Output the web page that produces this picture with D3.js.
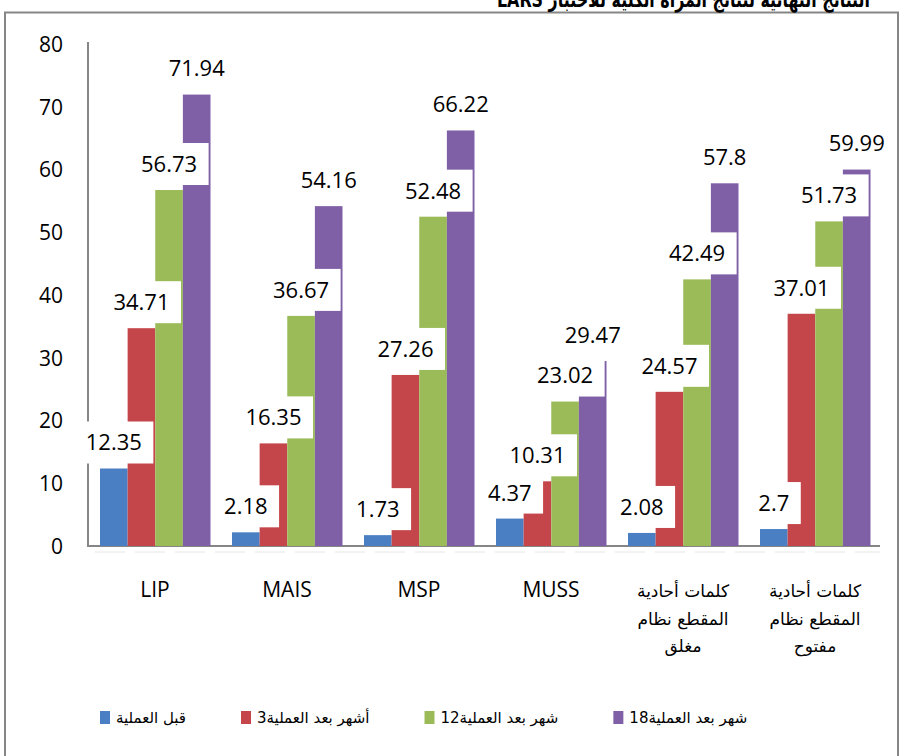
<!DOCTYPE html>
<html>
<head>
<meta charset="utf-8">
<script src="https://cdn.jsdelivr.net/npm/d3@7"></script>
<style>
  html, body { margin: 0; padding: 0; background: #fff; }
  svg { display: block; }
</style>
</head>
<body>
<svg id="chart" width="905" height="756"></svg>
<script>
// ---- data ----
const titleText = "النتائج النهائية لنتائج المرأة الكلية للاختبار LARS";
const categories = [
  ["LIP"],
  ["MAIS"],
  ["MSP"],
  ["MUSS"],
  ["كلمات أحادية", "المقطع نظام", "مغلق"],
  ["كلمات أحادية", "المقطع نظام", "مفتوح"]
];
const seriesNames = ["قبل العملية", "أشهر بعد العملية3", "شهر بعد العملية12", "شهر بعد العملية18"];
const seriesColors = ["#4A7FC4", "#C4464A", "#9BBB59", "#7F5FA5"];
const before = [12.35, 2.18, 1.73, 4.37, 2.08, 2.7];
const after3 = [34.71, 16.35, 27.26, 10.31, 24.57, 37.01];
const after12 = [56.73, 36.67, 52.48, 23.02, 42.49, 51.73];
const after18 = [71.94, 54.16, 66.22, 29.47, 57.8, 59.99];
const yTicks = [0, 10, 20, 30, 40, 50, 60, 70, 80];

const seriesValues = [before, after3, after12, after18];

// ---- layout ----
const svg = d3.select("#chart");
const plot = { left: 89, right: 881, top: 44, bottom: 546 };

// outer border
svg.append("rect")
  .attr("x", 5).attr("y", 12.5).attr("width", 893).attr("height", 760)
  .attr("fill", "none").attr("stroke", "#868686").attr("stroke-width", 2);

// title (top part lies above the page edge, as in the reference)
svg.append("text")
  .attr("x", 870).attr("y", 7)
  .attr("text-anchor", "start")
  .attr("direction", "rtl")
  .attr("textLength", 373)
  .attr("lengthAdjust", "spacingAndGlyphs")
  .style("font-family", "'DejaVu Sans', 'Liberation Serif', serif")
  .style("font-weight", "bold")
  .style("font-size", "22px")
  .attr("fill", "#000")
  .text(titleText);

const x0 = d3.scaleBand().domain(d3.range(categories.length)).range([plot.left, plot.right]).paddingInner(0).paddingOuter(0);
const x1 = d3.scaleBand().domain(d3.range(seriesNames.length)).range([11, x0.bandwidth() - 10.5]).padding(0);
const y = d3.scaleLinear().domain([0, 80]).range([plot.bottom, plot.top]);

// y axis labels
const yAxis = d3.axisLeft(y).tickValues(yTicks).tickSize(0).tickPadding(25);
const yg = svg.append("g").attr("transform", `translate(${plot.left - 1},0)`).call(yAxis);
yg.select(".domain").remove();
yg.selectAll("text")
  .style("font-family", "'Open Sans', sans-serif")
  .style("font-size", "21px")
  .attr("fill", "#000")
  .attr("dy", "0.35em");

// axis lines
svg.append("line")
  .attr("x1", 88).attr("x2", 88).attr("y1", 42).attr("y2", plot.bottom)
  .attr("stroke", "#868686").attr("stroke-width", 2);
svg.append("line")
  .attr("x1", 87).attr("x2", 880).attr("y1", plot.bottom).attr("y2", plot.bottom)
  .attr("stroke", "#868686").attr("stroke-width", 2);
svg.append("line")
  .attr("x1", 95).attr("x2", 880).attr("y1", plot.bottom + 6).attr("y2", plot.bottom + 6)
  .attr("stroke", "#e6e6e6").attr("stroke-width", 1).attr("stroke-dasharray", "30,10");

// bars
const flat = [];
categories.forEach((c, ci) => {
  seriesValues.forEach((vals, si) => {
    flat.push({ ci, si, v: vals[ci] });
  });
});

svg.append("g").selectAll("rect").data(flat).join("rect")
  .attr("x", d => x0(d.ci) + x1(d.si))
  .attr("width", x1.bandwidth())
  .attr("y", d => y(d.v))
  .attr("height", d => y(0) - y(d.v))
  .attr("fill", d => seriesColors[d.si]);

// data labels with white boxes
const lg = svg.append("g");
const labels = lg.selectAll("g").data(flat).join("g")
  .attr("transform", d => `translate(${x0(d.ci) + x1(d.si) + x1.bandwidth() / 2},${y(d.v) - 26})`);
const boxes = labels.append("rect").attr("fill", "#fff");
const texts = labels.append("text")
  .attr("text-anchor", "middle")
  .attr("dy", "0.36em")
  .style("font-family", "'Open Sans', sans-serif")
  .style("font-size", "22px")
  .attr("fill", "#000")
  .text(d => String(d.v));
texts.each(function () {
  const w = this.getComputedTextLength() + 23;
  d3.select(this.previousSibling)
    .attr("x", -w / 2).attr("y", -21).attr("width", w).attr("height", 42);
});

// category labels
categories.forEach((lines, ci) => {
  const cx = x0(ci) + x0.bandwidth() / 2;
  const isLatin = lines.length === 1;
  const t = svg.append("text")
    .attr("text-anchor", "middle")
    .attr("fill", "#000")
    .style("font-family", isLatin ? "'Open Sans', sans-serif" : "'DejaVu Sans', sans-serif")
    .style("font-size", isLatin ? "21px" : "17px");
  lines.forEach((ln, li) => {
    t.append("tspan").attr("x", cx).attr("y", 597 + li * 27.5)
      .attr("direction", isLatin ? "ltr" : "rtl")
      .text(ln);
  });
});

// legend
const legG = svg.append("g");
const legY = 718;
let lx = 100;
seriesNames.forEach((name, i) => {
  legG.append("rect")
    .attr("x", lx).attr("y", legY - 7).attr("width", 10).attr("height", 13)
    .attr("fill", seriesColors[i]);
  const t = legG.append("text")
    .attr("x", lx + 16).attr("y", legY)
    .attr("dy", "0.35em")
    .attr("text-anchor", "end")
    .attr("direction", "rtl")
    .style("font-family", "'DejaVu Sans', sans-serif")
    .style("font-size", "15px")
    .attr("fill", "#000")
    .text(name);
  const w = t.node().getComputedTextLength();
  lx = lx + 16 + w + 55;
});
</script>
</body>
</html>
